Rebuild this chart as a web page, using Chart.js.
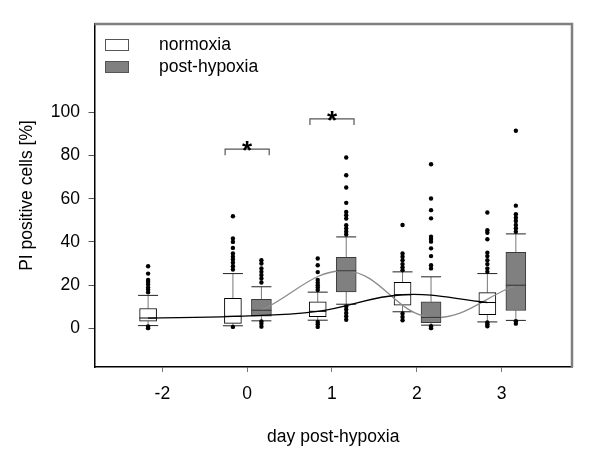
<!DOCTYPE html>
<html lang="en">
<head>
<meta charset="UTF-8">
<title>PI positive cells</title>
<script src="https://cdn.jsdelivr.net/npm/chart.js"></script>
<style>
  html, body { margin: 0; padding: 0; background: #fff; }
  #wrap { width: 600px; height: 450px; }
</style>
</head>
<body>
<div id="wrap"><canvas id="chart"></canvas></div>
<script>
// x axis categories (day post-hypoxia)
const days = ['-2', '0', '1', '2', '3'];
const seriesNames = ['normoxia', 'post-hypoxia'];
const yTicks = [0, 20, 40, 60, 80, 100];

// box stats per day: [lower whisker, q1, median, q3, upper whisker]
const normoxiaBoxes = [
    [1.2, 3.2, 4.7, 9.1, 15.2],
    [1.1, 2.2, 5.5, 13.8, 25.3],
    [3.7, 5.3, 7.8, 12.2, 16.7],
    [7.6, 10.7, 15.5, 21.2, 26.1],
    [2.9, 6.3, 11.9, 16.5, 25.3]
];
const hypoxiaBoxes = [
    null,
    [3.4, 5.6, 8.3, 13.4, 19.2],
    [11.1, 16.8, 26.6, 32.8, 42.3],
    [1.4, 2.5, 5.0, 12.2, 23.8],
    [3.6, 8.2, 19.9, 35.1, 43.7]
];

// outliers per day
const normoxiaOutliers = [
    [28.7, 25.3, 22.3, 21.4, 20.3, 18.8, 17.8, 16.6, 0.8, 0],
    [51.9, 41.6, 40.0, 37.2, 34.6, 33.1, 31.8, 30.3, 28.7, 27.2, 0.6],
    [32.3, 29.2, 26.0, 22.3, 21.1, 19.9, 18.8, 17.7, 2.9, 1.8, 0.6],
    [47.8, 34.6, 33.1, 31.5, 29.7, 28.2, 26.9, 6.8, 5.2, 3.7],
    [53.6, 45.4, 44.2, 41.2, 35.0, 33.4, 31.5, 29.7, 27.7, 26.1, 2.6, 1.8, 0.9]
];
const hypoxiaOutliers = [
    [],
    [31.5, 30.0, 27.7, 26.1, 24.6, 23.0, 21.2, 3.1, 2.0, 0.7],
    [79.1, 70.9, 65.2, 58.1, 53.9, 52.4, 50.8, 47.7, 46.2, 44.7, 43.4, 10.1, 8.6, 7.0, 5.5, 3.9],
    [76.0, 60.1, 54.7, 50.9, 42.4, 41.3, 40.1, 37.0, 33.4, 29.2, 27.7, 0.9, 0],
    [91.5, 56.8, 52.8, 51.2, 49.7, 47.8, 46.3, 44.7, 3.2, 2.1]
];

// significance brackets: day index and height
const sigDays = [1, 2];
const sigHeights = [83, 97];

const FONT = "'Liberation Sans', Arial, sans-serif";
const font = { family: FONT, size: 17.5 };
const shift = 0.168;   // offset of each box from the day tick
const sigHalf = 0.26;

function boxBars(boxes, dx) {
    const pts = [];
    boxes.forEach((b, i) => { if (b) pts.push({ x: i + dx, y: [b[1], b[3]] }); });
    return pts;
}
function medianLine(boxes, dx) {
    const pts = [];
    boxes.forEach((b, i) => { if (b) pts.push({ x: i + dx, y: b[2] }); });
    return pts;
}
function outlierPts(list, dx) {
    const pts = [];
    list.forEach((vals, i) => vals.forEach(v => pts.push({ x: i + dx, y: v })));
    return pts;
}

const datasets = [
    {
        type: 'line', data: medianLine(normoxiaBoxes, -shift), borderColor: '#000', borderWidth: 1.3,
        tension: 0.4, pointRadius: 0, fill: false, order: 0
    },
    {
        type: 'line', data: medianLine(hypoxiaBoxes, shift), borderColor: '#8c8c8c', borderWidth: 1.3,
        tension: 0.4, pointRadius: 0, fill: false, order: 0
    },
    {
        type: 'bar', data: boxBars(normoxiaBoxes, -shift), backgroundColor: '#fff', borderColor: '#000',
        borderWidth: 1, borderSkipped: false, barThickness: 17, grouped: false, order: 2
    },
    {
        type: 'bar', data: boxBars(hypoxiaBoxes, shift), backgroundColor: '#808080', borderColor: '#3a3a3a',
        borderWidth: 1, borderSkipped: false, barThickness: 20, grouped: false, order: 2
    },
    {
        type: 'scatter', data: outlierPts(normoxiaOutliers, -shift), backgroundColor: '#000',
        borderWidth: 0, pointRadius: 2.2, order: 1
    },
    {
        type: 'scatter', data: outlierPts(hypoxiaOutliers, shift), backgroundColor: '#000',
        borderWidth: 0, pointRadius: 2.2, order: 1
    }
];

// brackets over the significant days
sigDays.forEach((d, k) => {
    const h = sigHeights[k];
    datasets.push({
        type: 'line',
        data: [
            { x: d - sigHalf, y: h - 2.8 }, { x: d - sigHalf, y: h },
            { x: d + sigHalf, y: h }, { x: d + sigHalf, y: h - 2.8 }
        ],
        borderColor: '#555', borderWidth: 1.2, tension: 0, pointRadius: 0, fill: false, order: 0
    });
});

// whiskers, caps, medians
const boxExtras = {
    id: 'boxExtras',
    beforeDatasetsDraw(chart) {
        const { ctx, scales: { x, y } } = chart;
        ctx.save();
        [[normoxiaBoxes, -shift], [hypoxiaBoxes, shift]].forEach(([boxes, dx]) => {
            boxes.forEach((b, i) => {
                if (!b) return;
                const px = x.getPixelForValue(i + dx);
                ctx.strokeStyle = '#777';
                ctx.lineWidth = 1;
                ctx.beginPath();
                ctx.moveTo(px, y.getPixelForValue(b[0]));
                ctx.lineTo(px, y.getPixelForValue(b[1]));
                ctx.moveTo(px, y.getPixelForValue(b[3]));
                ctx.lineTo(px, y.getPixelForValue(b[4]));
                ctx.stroke();
                ctx.strokeStyle = '#222';
                ctx.beginPath();
                [b[0], b[4]].forEach(v => {
                    const py = y.getPixelForValue(v);
                    ctx.moveTo(px - 10, py);
                    ctx.lineTo(px + 10, py);
                });
                ctx.stroke();
            });
        });
        ctx.restore();
    },
    afterDatasetsDraw(chart) {
        const { ctx, scales: { x, y } } = chart;
        ctx.save();
        [[normoxiaBoxes, -shift, 8.5, '#000'], [hypoxiaBoxes, shift, 10, '#333']].forEach(([boxes, dx, hw, col]) => {
            boxes.forEach((b, i) => {
                if (!b) return;
                const px = x.getPixelForValue(i + dx);
                const py = y.getPixelForValue(b[2]);
                ctx.strokeStyle = col;
                ctx.lineWidth = 1;
                ctx.beginPath();
                ctx.moveTo(px - hw, py);
                ctx.lineTo(px + hw, py);
                ctx.stroke();
            });
        });
        // asterisks
        ctx.fillStyle = '#000';
        ctx.font = 'bold 26px ' + FONT;
        ctx.textAlign = 'center';
        ctx.textBaseline = 'alphabetic';
        sigDays.forEach((d, k) => {
            ctx.fillText('*', x.getPixelForValue(d), y.getPixelForValue(sigHeights[k]) + 10);
        });
        ctx.restore();
    },
    afterDraw(chart) {
        const { ctx, chartArea: a } = chart;
        ctx.save();
        // top and right frame
        ctx.strokeStyle = '#808080';
        ctx.lineWidth = 2.5;
        ctx.beginPath();
        ctx.moveTo(a.left, a.top);
        ctx.lineTo(a.right, a.top);
        ctx.lineTo(a.right, a.bottom);
        ctx.stroke();
        // legend
        const fills = ['#fff', '#808080'];
        const strokes = ['#555', '#555'];
        seriesNames.forEach((name, k) => {
            const top = 39 + k * 22;
            ctx.fillStyle = fills[k];
            ctx.fillRect(105, top, 24, 12);
            ctx.strokeStyle = strokes[k];
            ctx.lineWidth = 1;
            ctx.strokeRect(105.5, top + 0.5, 23, 11);
            ctx.fillStyle = '#000';
            ctx.font = '17.5px ' + FONT;
            ctx.textAlign = 'left';
            ctx.textBaseline = 'middle';
            ctx.fillText(name, 159, top + 6);
        });
        ctx.restore();
    }
};

new Chart(document.getElementById('chart'), {
    type: 'bar',
    data: { datasets: datasets },
    options: {
        responsive: true,
        maintainAspectRatio: false,
        animation: false,
        events: [],
        layout: { padding: { left: 0, right: 28, top: 24, bottom: 0 } },
        plugins: { legend: { display: false }, tooltip: { enabled: false } },
        scales: {
            x: {
                type: 'linear', min: -0.8, max: 4.83, offset: false,
                afterBuildTicks: s => { s.ticks = days.map((d, i) => ({ value: i })); },
                afterFit: s => { s.height = 83; },
                ticks: { callback: v => days[v], font: font, color: '#000', padding: 11.5, autoSkip: false, maxRotation: 0 },
                grid: { display: true, offset: false, drawOnChartArea: false, drawTicks: true, tickLength: 5, tickColor: '#777' },
                border: { display: true, color: '#000', width: 1.5 },
                title: { display: true, text: 'day post-hypoxia', font: font, color: '#000', padding: { top: 0, bottom: 2.5 } }
            },
            y: {
                type: 'linear', min: -18, max: 141,
                afterBuildTicks: s => { s.ticks = yTicks.map(v => ({ value: v })); },
                afterFit: s => { s.width = 94.5; },
                ticks: { font: font, color: '#000', padding: 8.5 },
                grid: { display: true, offset: false, drawOnChartArea: false, drawTicks: true, tickLength: 6, tickColor: '#555' },
                border: { display: true, color: '#000', width: 1.5 },
                title: { display: true, text: 'PI positive cells [%]', font: font, color: '#000', padding: { top: 17, bottom: 0 } }
            }
        }
    },
    plugins: [boxExtras]
});
</script>
</body>
</html>
